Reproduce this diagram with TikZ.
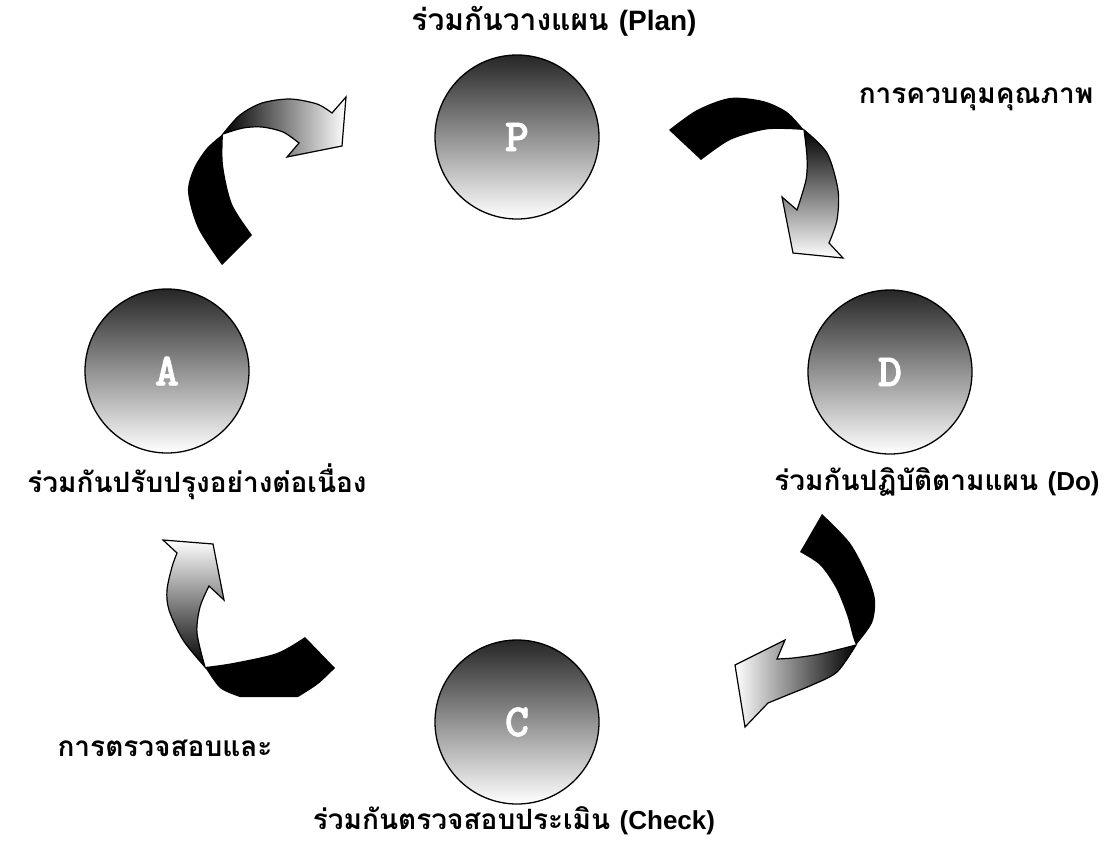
\documentclass[tikz,border=0pt]{standalone}
\usepackage{fontspec}
\newfontfamily\thaifont[Script=Thai]{Loma}
\newfontfamily\latinfont{Liberation Sans}
\newfontfamily\letterfont[FakeBold=1.6]{lmmonolt10-bold.otf}
\begin{document}
\begin{tikzpicture}[x=1pt,y=-1pt,
  lbl/.style={font=\bfseries\fontsize{28}{30}\selectfont, anchor=base, inner sep=0pt},
  ball/.style={circle, draw=black, line width=1.3pt, minimum size=164pt, inner sep=0pt,
    top color=black!85, bottom color=white, text=white,
    font=\letterfont\fontsize{46}{46}\selectfont},
  tailpart/.style={fill=black},
  headpart/.style={draw=black, line width=1.2pt, line join=miter}]
\useasboundingbox (0,0) rectangle (1119,841);
\newcommand\latpart[1]{{\latinfont\fontsize{26}{30}\selectfont #1}}

% arrow A -> P
\fill[tailpart] plot[smooth] coordinates{(223,134)(207,148)(194,168)(188,192)(198,228)(222,265)} -- (252,235) -- plot[smooth] coordinates{(252,235)(232,204)(223,165)(223,134)} -- cycle;
\path[headpart, left color=black, right color=white] plot[smooth] coordinates{(223,134)(240,115)(262,103)(290,99)(317,104)(332,113)} -- (346,97) -- (342,146) -- (287,157) -- (299,143) -- plot[smooth] coordinates{(299,143)(283,132)(262,127)(243,128)(223,134)} -- cycle;

% arrow P -> D
\fill[tailpart] plot[smooth] coordinates{(701,160)(730,140)(763,130)(785,129)(804,130)} -- plot[smooth] coordinates{(804,130)(787,112)(763,101)(730,98)(697,110)(669,130)} -- cycle;
\path[headpart, top color=black, bottom color=white] plot[smooth] coordinates{(804,130)(827,153)(838,190)(837,220)(829,243)} -- (843,258) -- (793,253) -- (782,197) -- (797,210) -- plot[smooth] coordinates{(797,210)(806,180)(807,157)(804,130)} -- cycle;

% arrow D -> C
\fill[tailpart] plot[smooth] coordinates{(822,514)(850,543)(868,577)(875,600)(872,623)(856,645)} -- plot[smooth] coordinates{(856,645)(853,637)(847,615)(836,588)(820,565)(800,552)} -- cycle;
\path[headpart, left color=white, right color=black] plot[smooth] coordinates{(856,645)(820,654)(793,658)(777,659)} -- (785,640) -- (735,665) -- (745,727) -- (768,703) -- plot[smooth] coordinates{(768,703)(790,694)(812,685)(837,672)(856,645)} -- cycle;

% arrow C -> A
\fill[tailpart] plot[smooth] coordinates{(205,667)(233,663)(277,653)(305,637)} -- (335,668) -- plot[smooth] coordinates{(335,668)(318,684)(298,697)} -- (240,697) -- plot[smooth] coordinates{(240,697)(220,688)(205,667)} -- cycle;
\path[headpart, top color=white, bottom color=black] plot[smooth] coordinates{(205,667)(183,640)(169,610)(167,590)(172,567)(177,553)} -- (163,540) -- (213,544) -- (224,600) -- (209,586) -- plot[smooth] coordinates{(209,586)(200,607)(197,633)(205,667)} -- cycle;

% circles
\node[ball] (P) at (517,137) {P};
\node[ball] (D) at (890,372) {D};
\node[ball] (A) at (167,371) {A};
\node[ball] (C) at (517,722) {C};

% labels
\node[lbl, font=\bfseries\fontsize{30}{32}\selectfont] (planlbl) at (554,30) {\thaifont ร่วมกันวางแผน {\latinfont\fontsize{28}{30}\selectfont (Plan)}};
\node[lbl] (qclbl) at (976,103) {\thaifont การควบคุมคุณภาพ};
\node[lbl] (dolbl) at (937,490) {\thaifont ร่วมกันปฏิบัติตามแผน \latpart{(Do)}};
\node[lbl] (actlbl) at (197,492) {\thaifont ร่วมกันปรับปรุงอย่างต่อเนื่อง};
\node[lbl] (qalbl) at (165,756) {\thaifont การตรวจสอบและ};
\node[lbl, text depth=0pt] (chklbl) at (514,829) {\thaifont ร่วมกันตรวจสอบประเมิน \latpart{(Check)}};
\end{tikzpicture}
\end{document}
